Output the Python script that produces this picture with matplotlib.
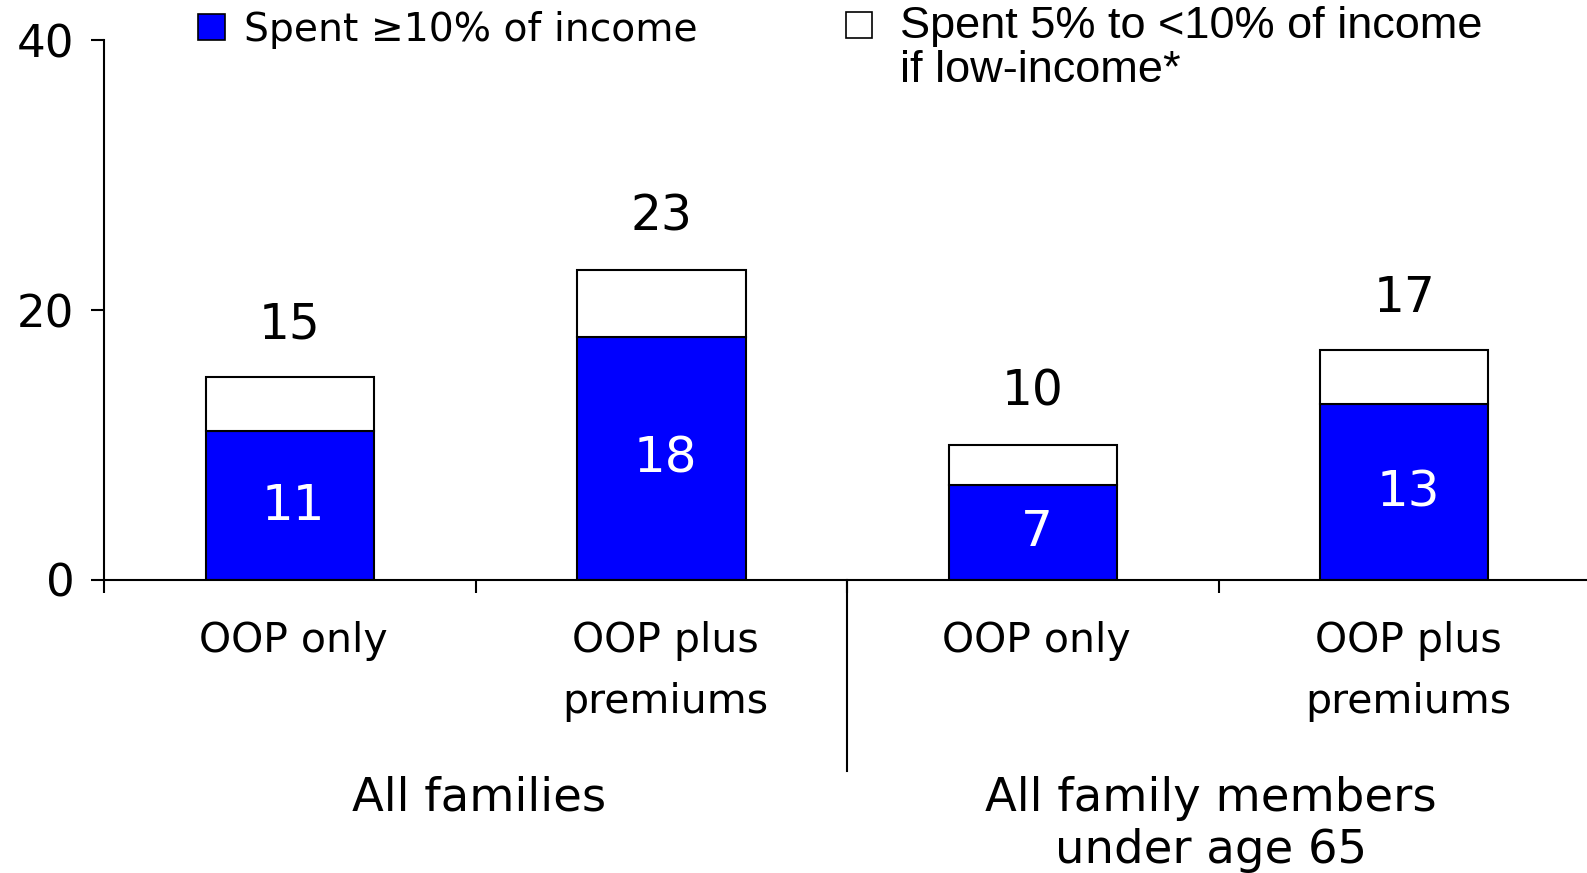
import matplotlib.pyplot as plt
from matplotlib.patches import Rectangle

# Share of families with high out-of-pocket (OOP) burden, percent
categories = ['OOP only', 'OOP plus\npremiums', 'OOP only', 'OOP plus\npremiums']
groups = ['All families', 'All family members\nunder age 65']
high_burden = [11, 18, 7, 13]      # spent >=10% of income
total_burden = [15, 23, 10, 17]    # adds 5% to <10% if low-income
low_income_extra = [t - h for t, h in zip(total_burden, high_burden)]
y_ticks = [0, 20, 40]

plt.rcParams['font.family'] = 'DejaVu Sans'

# layout worked out on a 1568 x 863 grid
W, H = 1568, 863

fig = plt.figure(figsize=(15.87, 8.73), dpi=100)
ax = fig.add_axes([103 / W, 1 - 573 / H, 1468 / W, 533 / H])

x = list(range(len(categories)))
width = 0.453
ax.bar(x, high_burden, width, color='#0000ff', edgecolor='black', linewidth=1.5)
ax.bar(x, low_income_extra, width, bottom=high_burden, color='white',
       edgecolor='black', linewidth=1.5)

# totals above the bars, blue share inside
for xi, h, t in zip(x, high_burden, total_burden):
    ax.annotate(str(t), (xi, t), xytext=(0, 28), textcoords='offset points',
                ha='center', va='baseline', fontsize=35, color='black')
    ax.text(xi + 0.01, h / 2, str(h), ha='center', va='center',
            fontsize=36, color='white')

ax.set_xlim(-0.5, 3.5)
ax.set_ylim(0, 40)
ax.set_yticks(y_ticks)
ax.set_yticklabels([str(v) for v in y_ticks], fontsize=32.5)
ax.tick_params(axis='y', direction='out', length=9.5, width=1.5, pad=12)
ax.set_xticks([-0.5, 0.5, 1.5, 2.5])
ax.set_xticklabels([])
ax.tick_params(axis='x', direction='out', length=9, width=1.5)

for side in ['top', 'right']:
    ax.spines[side].set_visible(False)
for side in ['left', 'bottom']:
    ax.spines[side].set_linewidth(1.5)

# separator between the two groups
ax.plot([1.5, 1.5], [0, -(762 - 573) / 533], transform=ax.get_xaxis_transform(),
        color='black', linewidth=1.5, clip_on=False)

# category labels under each bar
for xi, lab in zip(x, categories):
    ax.text(xi + 0.01, -(614 - 573) / 533, lab, transform=ax.get_xaxis_transform(),
            ha='center', va='top', fontsize=29.5, linespacing=1.66)

# group labels
for gx, lab in zip([0.51, 2.48], groups):
    ax.text(gx, -(767 - 573) / 533, lab, transform=ax.get_xaxis_transform(),
            ha='center', va='top', fontsize=33.5, linespacing=1.2)

# legend
fig.patches.append(Rectangle((196 / W, 1 - 40 / H), 26 / W, 26 / H,
                             transform=fig.transFigure, facecolor='#0000ff',
                             edgecolor='black', linewidth=1.2))
fig.text(241 / W, 1 - 30 / H, 'Spent \u226510% of income', fontsize=28.3,
         ha='left', va='center')
fig.patches.append(Rectangle((836 / W, 1 - 38 / H), 26 / W, 26 / H,
                             transform=fig.transFigure, facecolor='white',
                             edgecolor='black', linewidth=1.2))
fig.text(889 / W, 1 - 6 / H, 'Spent 5% to <10% of income\nif low-income*',
         fontsize=32.5, ha='left', va='top', linespacing=1.08,
         family='Liberation Sans')

fig.savefig('out.png', dpi=100)
